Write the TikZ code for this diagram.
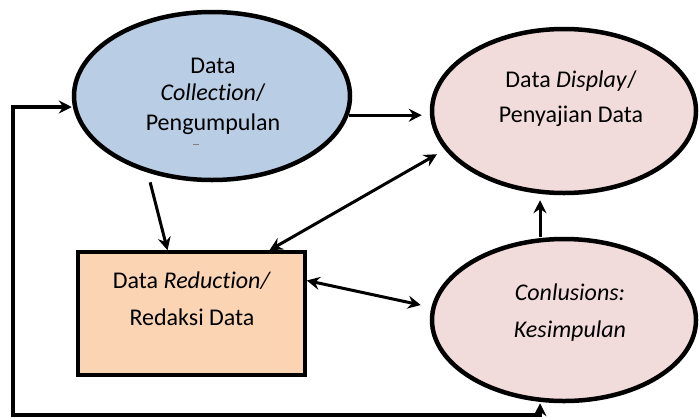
\documentclass[tikz,border=0pt]{standalone}
\usepackage{fontspec}
\setmainfont{Carlito}[Ligatures=NoCommon]
\usetikzlibrary{shapes.geometric,arrows.meta,calc}
\definecolor{cblue}{RGB}{185,205,229}
\definecolor{cpink}{RGB}{242,220,219}
\definecolor{cpeach}{RGB}{251,212,180}
\begin{document}
\begin{tikzpicture}[x=1pt,y=-1pt,
  ell/.style={draw=black,line width=4.5pt,ellipse,inner sep=0pt},
  boxshape/.style={draw=black,line width=3.6pt,inner sep=0pt},
  txt/.style={font=\fontsize{24}{29}\selectfont,anchor=base,inner sep=0pt},
  tip/.style={},
  arr/.style={line width=3pt,-{Stealth[length=13pt,width=13pt,inset=4.5pt]}},
  darr/.style={line width=3pt,{Stealth[length=13pt,width=13pt,inset=4.5pt]}-{Stealth[length=13pt,width=13pt,inset=4.5pt]}},
]
\useasboundingbox (0,0) rectangle (700,418);
\node[ell,fill=cblue,minimum width=276pt,minimum height=168pt] (coll) at (212,96) {};
\node[ell,fill=cpink,minimum width=264pt,minimum height=164pt] (disp) at (564,111) {};
\node[ell,fill=cpink,minimum width=264pt,minimum height=162pt] (concl) at (564,320) {};
\node[boxshape,fill=cpeach,minimum width=227pt,minimum height=123pt] (red) at (191.5,313.5) {};

\node[txt] (c1) at (213,73) {Data};
\node[txt] (c2) at (213,100) {\textit{Collection}/};
\node[txt] (c3) at (213,130) {Pengumpulan};
\draw[gray,line width=1pt] (193,144) -- (199,144);
\node[txt] (d1) at (571,87) {Data \textit{Display}/};
\node[txt] (d2) at (571,122) {Penyajian Data};
\node[txt] (k1) at (570,300) {\textit{Conlusions:}};
\node[txt] (k2) at (570,337) {\textit{Kesimpulan}};
\node[txt] (r1) at (192,288) {Data \textit{Reduction/}};
\node[txt] (r2) at (192,325) {Redaksi Data};

\draw[arr,shorten >=8pt] (coll.352) -- (coll.352 -| disp.west);
\draw[arr,shorten <=10pt] (coll.230) -- ([xshift=-24pt]red.north);
\draw[darr,shorten <=9pt] (disp.198) -- ([xshift=78pt]red.north);
\draw[darr] ([yshift=33pt]red.east) -- ([shift={(-9pt,15pt)}]concl.west);
\draw[arr,shorten >=5pt] ([xshift=-24pt]concl.north) -- ([xshift=-24pt]disp.south);
\coordinate (lb) at (13,415);
\draw[darr,line width=3.2pt] ([xshift=-24pt]concl.south) |- (lb) |- ([yshift=-11pt]coll.west);
\end{tikzpicture}
\end{document}
